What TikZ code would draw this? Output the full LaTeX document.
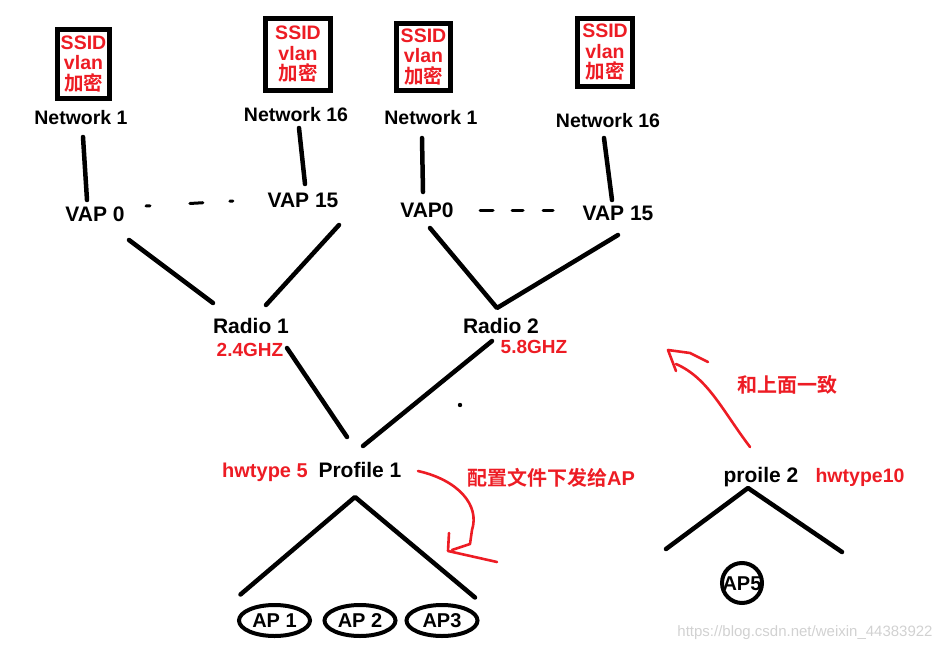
\documentclass[tikz,border=0pt]{standalone}
\usepackage{fontspec}
\setmainfont{Liberation Sans}
\newfontfamily\cjk{Noto Sans CJK SC}[BoldFont={Noto Sans CJK SC Bold}]
\newfontfamily\wmfont{Liberation Sans}
\usetikzlibrary{shapes.geometric}
\definecolor{pen}{RGB}{237,28,36}
\newcommand{\zh}[1]{{\cjk #1}}

\begin{document}
\begin{tikzpicture}[x=1pt,y=-1pt,
    lbl/.style={font=\bfseries\fontsize{#1}{#1}\selectfont, inner sep=0pt, text height={0.72*#1}, text depth=0pt},
    redlbl/.style={lbl=#1, text=pen},
    netbox/.style 2 args={draw, line width=5pt, inner sep=0pt, minimum width=#1, minimum height=#2,
      align=center, text=pen, font=\bfseries\fontsize{19.5}{20.5}\selectfont},
    wire/.style={line width=4.5pt, line cap=round, line join=round},
    dots/.style={line width=3pt, line cap=round},
    scrawl/.style={pen, line width=2.6pt, line cap=round, line join=round},
    apnode/.style={ellipse, draw, line width=4pt, minimum width=71pt, minimum height=31pt, lbl=20}]
  \useasboundingbox (0,0) rectangle (950,650);

  % networks
  \node [netbox={52}{69}] (boxa) at (83.5,64) {SSID\\vlan\\\zh{加密}};
  \node [netbox={65}{72}] (boxb) at (298,54.5) {SSID\\vlan\\\zh{加密}};
  \node [netbox={54}{67}] (boxc) at (423.5,57) {SSID\\vlan\\\zh{加密}};
  \node [netbox={55}{68}] (boxd) at (605,52.5) {SSID\\vlan\\\zh{加密}};
  \node [lbl=19.5] (neta) at (81,117) {Network 1};
  \node [lbl=19.5] (netb) at (296,114) {Network 16};
  \node [lbl=19.5] (netc) at (431,117) {Network 1};
  \node [lbl=19.5] (netd) at (608,120) {Network 16};

  % vaps
  \node [lbl=21] (vapa) at (95,214) {VAP 0};
  \node [lbl=21] (vapb) at (303,200) {VAP 15};
  \node [lbl=21] (vapc) at (427,210) {VAP0};
  \node [lbl=21] (vapd) at (618,213) {VAP 15};

  % radios
  \node [lbl=21] (radioa) at (251,326) {Radio 1};
  \node [redlbl=19] (freqa) at (250,350) {2.4GHZ};
  \node [lbl=21] (radiob) at (501,326) {Radio 2};
  \node [redlbl=19] (freqb) at (534,347) {5.8GHZ};

  % profiles
  \node [redlbl=20] (hwa) at (265,470) {hwtype 5};
  \node [lbl=21] (profa) at (360,470) {Profile 1};
  \node [lbl=21] (profb) at (761,475) {proile 2};
  \node [redlbl=19.5] (hwb) at (860,475) {hwtype10};
  \node [redlbl=20] (cfg) at (551,478) {\zh{配置文件下发给}AP};
  \node [redlbl=20] (same) at (787,385) {\zh{和上面一致}};

  % aps
  \node [apnode] (ap1) at (274.5,620.5) {AP 1};
  \node [apnode] (ap2) at (360,620.5) {AP 2};
  \node [apnode] (ap3) at (442,620.5) {AP3};
  \node [lbl=20] (ap5) at (742,583) {AP5};
  \draw [line width=4pt] (ap5.center) circle (20);

  \node [font=\wmfont\fontsize{15}{15}\selectfont, text=black!18, inner sep=0pt] (mark) at (805,633)
    {https://blog.csdn.net/weixin\_44383922};

  % wires
  \draw [wire] ([shift={(2,20)}]neta.center) -- ([shift={(-8,-14)}]vapa.center);
  \draw [wire] ([shift={(3,14)}]netb.center) -- ([shift={(2,-16)}]vapb.center);
  \draw [wire] ([shift={(-9,21)}]netc.center) -- ([shift={(-4,-18)}]vapc.center);
  \draw [wire] ([shift={(-4,18)}]netd.center) -- ([shift={(-6,-13)}]vapd.center);
  \draw [dots, dash pattern=on 4pt off 40pt on 13pt off 27pt on 3pt]
    ([shift={(51,-8)}]vapa.center) -- ([shift={(-70,1)}]vapb.center);
  \draw [dots, dash pattern=on 13pt off 19pt on 11pt off 20pt on 10pt]
    ([shift={(53,0)}]vapc.center) -- ([shift={(-65,-3)}]vapd.center);
  \draw [wire] ([shift={(34,26)}]vapa.center) -- ([shift={(-38,-23)}]radioa.center);
  \draw [wire] ([shift={(36,25)}]vapb.center) -- ([shift={(15,-21)}]radioa.center);
  \draw [wire] ([shift={(3,18)}]vapc.center) -- ([shift={(-4,-18)}]radiob.center)
    -- ([shift={(0,22)}]vapd.center);
  \draw [wire] ([shift={(36,22)}]radioa.center) -- ([shift={(-13,-33)}]profa.center);
  \draw [wire] ([shift={(-9,15)}]radiob.center) -- ([shift={(3,-24)}]profa.center);
  \draw [wire] ([shift={(-34,-26)}]ap1.center) -- ([shift={(-5,27)}]profa.center)
    -- ([shift={(33,-23)}]ap3.center);
  \draw [wire] ([shift={(-95,74)}]profb.center) -- ([shift={(-13,13)}]profb.center)
    -- ([shift={(81,77)}]profb.center);
  \fill (460,405) circle (2.2);

  % red notes
  \draw [scrawl] ([shift={(58,1)}]profa.center) .. controls (458,480) and (480,505) .. (472,530)
    -- (470,544) -- (452,550);
  \draw [scrawl] (449,533) -- (448,551) -- (497,562);
  \draw [scrawl] ([shift={(-11,-28)}]profb.center) .. controls (722,410) and (708,378) .. (676,364);
  \draw [scrawl] (676,371) -- (668,350) -- (690,353) -- (708,362);
\end{tikzpicture}
\end{document}
